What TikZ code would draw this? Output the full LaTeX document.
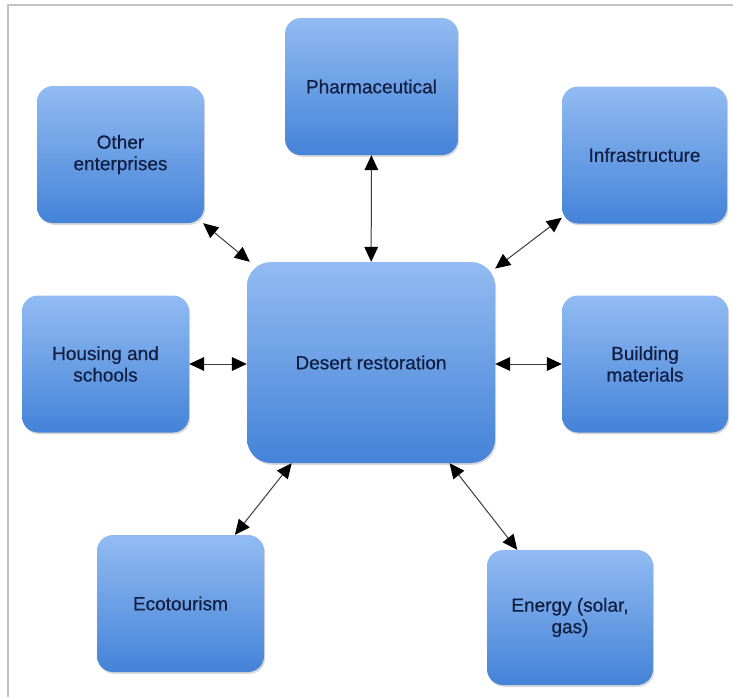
\documentclass[tikz,border=0pt]{standalone}
\usepackage{fontspec}
\setmainfont{Liberation Sans}
\newfontfamily\boxfont[FakeBold=0.5]{Liberation Sans}
\usetikzlibrary{arrows.meta,shadows}
\definecolor{boxtop}{RGB}{146,187,242}
\definecolor{boxbot}{RGB}{68,131,216}
\definecolor{boxtext}{RGB}{16,30,66}
\definecolor{framegray}{RGB}{195,195,195}
\definecolor{arrowgray}{RGB}{60,60,60}
\tikzset{
  box/.style={rectangle, rounded corners=16pt, top color=boxtop, bottom color=boxbot,
    draw=none, inner sep=0pt, align=center, text=boxtext,
    font=\boxfont\fontsize{19}{21.5}\selectfont,
    drop shadow={shadow xshift=1.2pt, shadow yshift=-1.8pt, opacity=0.25, fill=black!60}},
  smallbox/.style={box, minimum width=167pt, minimum height=137pt},
  bigbox/.style={box, rounded corners=24pt, minimum width=248pt, minimum height=201pt},
  link/.style={draw=arrowgray, line width=1pt,
    {Triangle[length=15pt,width=14pt,fill=black,line width=0pt]}-{Triangle[length=15pt,width=14pt,fill=black,line width=0pt]}}
}
\begin{document}
\begin{tikzpicture}[x=1pt,y=-1pt]
\useasboundingbox[fill=white] (0,0) rectangle (733,697);
\draw[framegray, line width=1.6pt] (733,5) -- (8,5) -- (8,697);
\node[bigbox] (des) at (371,362.5) {Desert restoration};
\node[smallbox, minimum width=173pt] (pha) at (371.5,86.5) {Pharmaceutical};
\node[smallbox] (oth) at (120.5,154.5) {Other\\enterprises};
\node[smallbox, minimum width=165pt] (inf) at (644.5,155) {Infrastructure};
\node[smallbox] (hou) at (105.5,364) {Housing and\\schools};
\node[smallbox, minimum width=166pt] (bui) at (645,364) {Building\\materials};
\node[smallbox] (eco) at (180.5,603.5) {Ecotourism};
\node[smallbox, minimum width=166pt, minimum height=135pt] (ene) at (570,617.5) {Energy (solar,\\gas)};
\draw[link] (oth) -- (des);
\draw[link] (pha) -- (des);
\draw[link] (inf) -- (des);
\draw[link] (hou.east) -- (des.west |- hou.east);
\draw[link] (bui.west) -- (des.east |- bui.west);
\draw[link] (eco) -- (des);
\draw[link] (ene) -- (des);
\end{tikzpicture}
\end{document}
